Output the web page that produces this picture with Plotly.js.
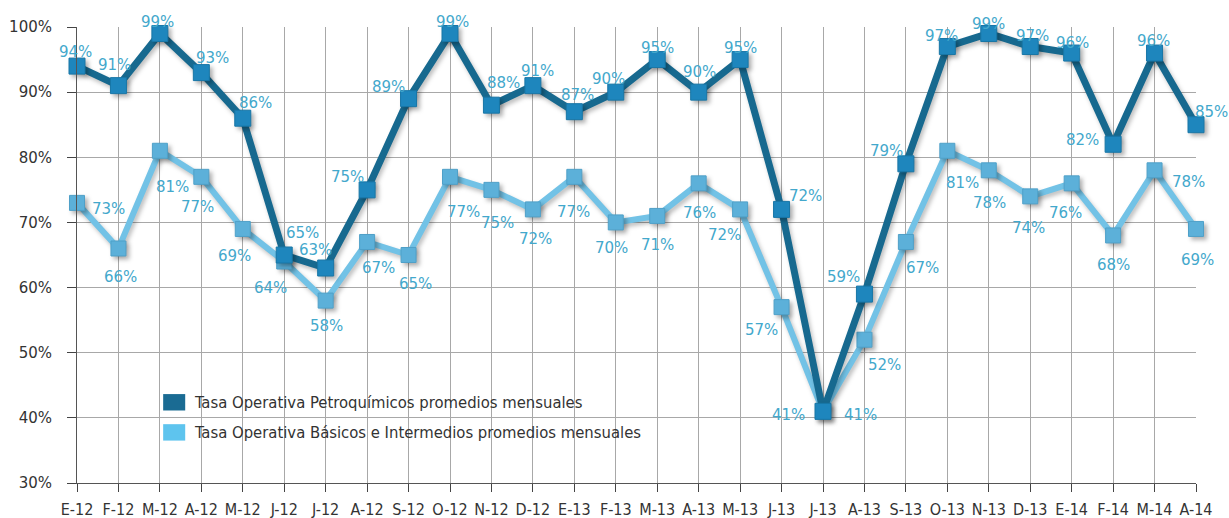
<!DOCTYPE html>
<html>
<head>
<meta charset="utf-8">
<script src="https://cdn.plot.ly/plotly-3.0.1.min.js"></script>
<style>
html,body{margin:0;padding:0;background:#fff;}
#chart{width:1229px;height:518px;}
#chart .scatterlayer .trace .js-line{filter:drop-shadow(2px 3px 2px rgba(0,0,0,0.25));}
#chart .scatterlayer .trace .points path{filter:drop-shadow(3px 3px 2px rgba(0,0,0,0.3));}
</style>
</head>
<body>
<div id="chart"></div>
<script>
var months = ["E-12","F-12","M-12","A-12","M-12","J-12","J-12","A-12","S-12","O-12","N-12","D-12",
              "E-13","F-13","M-13","A-13","M-13","J-13","J-13","A-13","S-13","O-13","N-13","D-13",
              "E-14","F-14","M-14","A-14"];
var petroquimicos = [94,91,99,93,86,65,63,75,89,99,88,91,87,90,95,90,95,72,41,59,79,97,99,97,96,82,96,85];
var basicos = [73,66,81,77,69,64,58,67,65,77,75,72,77,70,71,76,72,57,41,52,67,81,78,74,76,68,78,69];
var yTicks = [30,40,50,60,70,80,90,100];
var seriesNames = ["Tasa Operativa Petroquímicos promedios mensuales",
                   "Tasa Operativa Básicos e Intermedios promedios mensuales"];

// month positions (months repeat, so use index positions with month tick text)
var xKeys = months.map(function(m,i){return i;});

// label offsets in pixels [dx, dy] (dy positive = downwards), style only
var offPetro = [[-2,-14],[-4,-21],[-2,-12],[11,-15],[13,-15],[18,-22],[-10,-18],[-20,-13],[-20,-12],[2,-12],
  [12,-22],[5,-15],[3,-17],[-7,-13],[0,-12],[1,-20],[0,-12],[24,-13],[-35,4],[-21,-17],[-19,-13],[-6,-11],
  [0,-10],[2,-11],[1,-10],[-31,-4],[-1,-12],[15,-13]];
var offBasic = [[31,6],[2,29],[13,36],[-4,30],[-8,27],[-14,26],[1,25],[11,26],[7,29],[13,35],[6,33],[3,30],
  [-1,35],[-4,26],[0,29],[1,30],[-16,26],[-20,23],[37,4],[20,25],[17,26],[15,32],[1,33],[-2,32],[-6,30],
  [0,30],[34,12],[1,31]];

var labelFont = {family:"DejaVu Sans, sans-serif", size:15, color:"#43a8cc"};

var traces = [
  {
    x: xKeys, y: basicos, type:"scatter", mode:"lines+markers",
    name: seriesNames[1],
    line:{color:"#72c2e6", width:6},
    marker:{symbol:"square", size:15, color:"#5cb0d9", line:{color:"#4fa0c8", width:1}},
    cliponaxis:false, hoverinfo:"skip"
  },
  {
    x: xKeys, y: petroquimicos, type:"scatter", mode:"lines+markers",
    name: seriesNames[0],
    line:{color:"#17698f", width:7},
    marker:{symbol:"square", size:16, color:"#1e86bd", line:{color:"#1876a6", width:1}},
    cliponaxis:false, hoverinfo:"skip"
  }
];

var annotations = [];
function addLabels(vals, offs){
  vals.forEach(function(v,i){
    annotations.push({x:xKeys[i], y:v, xref:"x", yref:"y", text:v+"%", showarrow:false,
      xanchor:"center", yanchor:"middle", xshift:offs[i][0], yshift:-offs[i][1], font:labelFont});
  });
}
addLabels(basicos, offBasic);
addLabels(petroquimicos, offPetro);

var legendFont = {family:"Liberation Sans Narrow, DejaVu Sans Condensed, sans-serif", size:16.5, color:"#333"};
annotations.push({xref:"paper", yref:"paper", x:0.103, y:0.177, xanchor:"left", yanchor:"middle", showarrow:false,
  text:seriesNames[0], font:legendFont});
annotations.push({xref:"paper", yref:"paper", x:0.103, y:0.111, xanchor:"left", yanchor:"middle", showarrow:false,
  text:seriesNames[1], font:legendFont});

var layout = {
  width:1229, height:518,
  margin:{l:77, r:33, t:27, b:35},
  paper_bgcolor:"#fff", plot_bgcolor:"#fff",
  showlegend:false,
  xaxis:{
    type:"linear", range:[0, months.length-1],
    tickmode:"array", tickvals:xKeys, ticktext:months,
    showgrid:true, gridcolor:"#a8a8a8", gridwidth:1,
    showline:true, linecolor:"#555", linewidth:1,
    ticks:"outside", ticklen:8, tickcolor:"#444", tickwidth:1,
    ticklabelstandoff:4,
    tickfont:{family:"Liberation Sans Narrow, DejaVu Sans Condensed, sans-serif", size:16, color:"#333"},
    zeroline:false, fixedrange:true
  },
  yaxis:{
    range:[30,100],
    tickmode:"array", tickvals:yTicks, ticktext:yTicks.map(function(v){return v+"%";}),
    showgrid:true, gridcolor:"#a8a8a8", gridwidth:1,
    showline:true, linecolor:"#555", linewidth:1,
    ticks:"outside", ticklen:9, tickcolor:"#444", tickwidth:1,
    ticklabelstandoff:12,
    tickfont:{family:"DejaVu Sans, sans-serif", size:15, color:"#333"},
    zeroline:false, fixedrange:true
  },
  shapes:[
    {type:"rect", xref:"paper", yref:"paper", x0:0.077, x1:0.0967, y0:0.159, y1:0.195,
     fillcolor:"#1a6b93", line:{width:0}},
    {type:"rect", xref:"paper", yref:"paper", x0:0.077, x1:0.0967, y0:0.093, y1:0.129,
     fillcolor:"#5ec4ee", line:{width:0}}
  ],
  annotations: annotations
};

Plotly.newPlot("chart", traces, layout, {displayModeBar:false, staticPlot:true});
</script>
</body>
</html>
